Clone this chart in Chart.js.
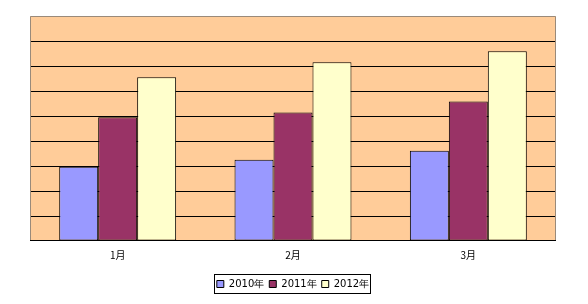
<!DOCTYPE html>
<html>
<head>
<meta charset="utf-8">
<script src="https://cdn.jsdelivr.net/npm/chart.js@4/dist/chart.umd.min.js"></script>
<style>
  html, body { margin: 0; padding: 0; background: #fff; }
  #wrap { width: 588px; height: 304px; }
</style>
</head>
<body>
<div id="wrap"><canvas id="grafico" width="588" height="304"></canvas></div>
<script>
// dados
const meses = ['1月', '2月', '3月'];
const anos = ['2010年', '2011年', '2012年'];
const dados2010 = [2.97, 3.25, 3.61];
const dados2011 = [4.95, 5.14, 5.58];
const dados2012 = [6.55, 7.15, 7.59];
const cores = ['#9999FF', '#993366', '#FFFFCC'];

// fundo da área do gráfico + borda
const fundoPlot = {
    id: 'fundoPlot',
    beforeDraw(chart) {
        const { ctx, chartArea: a } = chart;
        ctx.save();
        ctx.fillStyle = '#FFCC99';
        ctx.fillRect(a.left, a.top, a.right - a.left, a.bottom - a.top);
        ctx.restore();
    },
    afterDraw(chart) {
        const { ctx, chartArea: a } = chart;
        ctx.save();
        ctx.strokeStyle = '#9a8a7a';
        ctx.lineWidth = 1;
        ctx.beginPath();
        ctx.moveTo(a.left + 0.5, a.bottom);
        ctx.lineTo(a.left + 0.5, a.top + 0.5);
        ctx.lineTo(a.right - 0.5, a.top + 0.5);
        ctx.lineTo(a.right - 0.5, a.bottom);
        ctx.stroke();
        ctx.strokeStyle = '#000';
        ctx.beginPath();
        ctx.moveTo(a.left, a.bottom - 0.5);
        ctx.lineTo(a.right, a.bottom - 0.5);
        ctx.stroke();

        // caixa da legenda
        const caixas = chart.legend.legendHitBoxes;
        if (caixas && caixas.length) {
            const esq = Math.min(...caixas.map(c => c.left)) - 3;
            const dir = Math.max(...caixas.map(c => c.left + c.width)) + 1;
            const topo = Math.min(...caixas.map(c => c.top)) - 5;
            const base = Math.max(...caixas.map(c => c.top + c.height)) + 4;
            ctx.strokeStyle = '#000';
            ctx.strokeRect(Math.round(esq) + 0.5, Math.round(topo) + 0.5, Math.round(dir - esq), Math.round(base - topo));
        }
        ctx.restore();
    }
};

const contexto = document.getElementById('grafico').getContext('2d');
new Chart(contexto, {
    type: 'bar',
    data: {
        labels: meses,
        datasets: [dados2010, dados2011, dados2012].map((d, i) => ({
            label: anos[i],
            data: d,
            backgroundColor: cores[i],
            borderColor: '#000',
            borderWidth: 1,
            borderSkipped: false,
            categoryPercentage: 0.667,
            barPercentage: 1.0
        }))
    },
    options: {
        responsive: false,
        animation: false,
        layout: { padding: { left: 30, right: 32, top: 16, bottom: 5 } },
        scales: {
            x: {
                grid: { display: false },
                border: { display: false },
                afterFit: escala => { escala.height += 13; },
                ticks: {
                    color: '#000',
                    font: { family: '"Noto Sans CJK SC"', size: 10 },
                    padding: 0
                }
            },
            y: {
                min: 0,
                max: 9,
                ticks: { display: false, stepSize: 1 },
                border: { display: false },
                grid: {
                    drawTicks: false,
                    color: c => (c.tick.value === 9 || c.tick.value === 0) ? 'rgba(0,0,0,0)' : '#000',
                    lineWidth: 1
                }
            }
        },
        plugins: {
            tooltip: { enabled: false },
            legend: {
                position: 'bottom',
                labels: {
                    boxWidth: 7,
                    boxHeight: 7,
                    padding: 5,
                    color: '#000',
                    font: { family: '"DejaVu Sans"', size: 10 },
                    generateLabels: chart => chart.data.datasets.map((ds, i) => ({
                        text: ds.label,
                        fillStyle: ds.backgroundColor,
                        strokeStyle: '#000',
                        lineWidth: 1,
                        datasetIndex: i
                    }))
                }
            }
        }
    },
    plugins: [fundoPlot]
});
</script>
</body>
</html>
